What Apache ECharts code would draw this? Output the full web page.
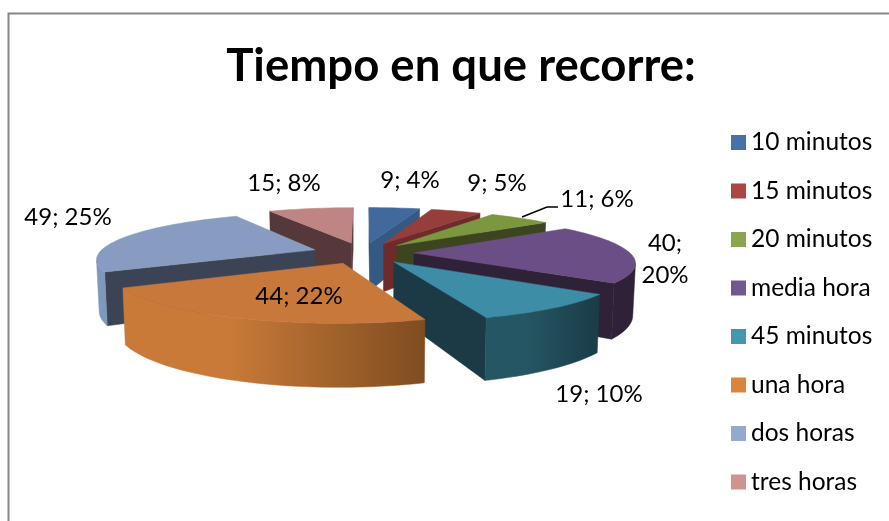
<!DOCTYPE html>
<html>
<head>
<meta charset="utf-8">
<style>
  html, body { margin: 0; padding: 0; background: #fff; }
  #chart { width: 889px; height: 521px; }
</style>
<script src="https://cdn.jsdelivr.net/npm/echarts@6/dist/echarts.min.js"></script>
</head>
<body>
<div id="chart"></div>
<script>
const categories = ['10 minutos', '15 minutos', '20 minutos', 'media hora', '45 minutos', 'una hora', 'dos horas', 'tres horas']
const values = [9, 9, 11, 40, 19, 44, 49, 15]
const percents = ['4%', '5%', '6%', '20%', '10%', '22%', '25%', '8%']

// colours: top face, legend, radial walls, outer rim (left -> right on screen)
const topColors = ['#41699c', '#953e3c', '#7b973f', '#6a4e85', '#3c8da5', '#c8783a', '#879cc0', '#bf8585']
const legendColors = ['#4572a7', '#aa4643', '#89a54e', '#71588f', '#4198af', '#db843d', '#93a9cf', '#d19392']
const wallColors = ['#345a84', '#6e2b2a', '#3d4520', '#2e2138', '#1b3a46', '#7e4d20', '#3b4355', '#55393a']
const rimLeft = ['#345a84', '#6e2b2a', '#3d4520', '#2e2138', '#255663', '#c97a38', '#7f97bb', '#55393a']
const rimRight = ['#345a84', '#6e2b2a', '#3d4520', '#2e2138', '#1b3b47', '#7e4d20', '#7f97bb', '#55393a']

// label centres, px
const labelX = [410, 497, 597, 665, 599, 299, 68, 284]
const labelY = [180, 183, 199, 259, 394, 296, 217, 183]
const labelBreak = [false, false, false, true, false, false, false, false]

// pie projection, fitted to the picture
const cx = 363
const cy = 253
const radiusX = 216
const radiusY = 45
const persp = 0.18
const explode = 0.236
const thickness = 50

const total = values.reduce((a, b) => a + b, 0)
const toRad = d => d * Math.PI / 180

function startAngle(i) {
  return values.slice(0, i).reduce((a, b) => a + b, 0) / total * 360
}

function project(u, v, down) {
  const s = 1 / (1 + persp * v)
  const x = cx + radiusX * u * s
  if (!down) return [x, cy - radiusY * v * s]
  return [cx + (x - cx) * 0.99, cy - radiusY * v * s + thickness * s]
}

function faceArea(p) {
  let a = 0
  for (let i = 0; i < p.length; i++) {
    const q = p[(i + 1) % p.length]
    a += p[i][0] * q[1] - q[0] * p[i][1]
  }
  return a
}

function quad(a, b) {
  return [project(a[0], a[1]), project(b[0], b[1]), project(b[0], b[1], true), project(a[0], a[1], true)]
}

function renderSlice(params, api) {
  const i = params.seriesIndex
  const from = startAngle(i)
  const sweep = api.value(0) / total * 360
  const mid = toRad(from + sweep / 2)
  const ou = explode * Math.sin(mid)
  const ov = explode * Math.cos(mid)

  const steps = Math.ceil(sweep / 2)
  const ring = [[ou, ov]]
  for (let k = 0; k <= steps; k++) {
    const t = toRad(from + sweep * k / steps)
    ring.push([ou + Math.sin(t), ov + Math.cos(t)])
  }

  const children = []
  const addFlat = (points, fill) => {
    children.push({
      type: 'polygon',
      shape: { points },
      style: { fill, stroke: fill, lineWidth: 0.5 }
    })
  }

  const startWall = quad(ring[0], ring[1])
  const endWall = quad(ring[ring.length - 1], ring[0])
  if (faceArea(startWall) < 0) addFlat(startWall, wallColors[i])
  if (faceArea(endWall) < 0) addFlat(endWall, wallColors[i])

  // the visible part of the rim goes in as one polygon, no seams
  const upper = []
  const lower = []
  for (let k = 1; k < ring.length - 1; k++) {
    const q = quad(ring[k], ring[k + 1])
    if (faceArea(q) >= 0) continue
    if (!upper.length) {
      upper.push(q[0])
      lower.push(q[3])
    }
    upper.push(q[1])
    lower.push(q[2])
  }
  if (upper.length) {
    const points = upper.concat(lower.reverse())
    const xs = points.map(p => p[0])
    addFlat(points, new echarts.graphic.LinearGradient(Math.min(...xs), 0, Math.max(...xs), 0, [
      { offset: 0, color: rimLeft[i] },
      { offset: 0.35, color: rimLeft[i] },
      { offset: 1, color: rimRight[i] }
    ], true))
  }

  addFlat(ring.map(p => project(p[0], p[1])), topColors[i])

  const head = api.value(0) + ';' + (labelBreak[i] ? '\n' : ' ')
  children.push({
    type: 'text',
    z2: 100,
    style: {
      x: labelX[i],
      y: labelY[i],
      text: head + percents[i],
      fill: '#000',
      font: '24px Lato',
      align: 'center',
      verticalAlign: 'middle',
      lineHeight: 32
    }
  })
  return { type: 'group', children }
}

// paint back to front, orange slice comes last
const depth = values.map((v, i) => Math.cos(toRad(startAngle(i) + v / total * 180)))
const order = depth.map((d, i) => i).sort((a, b) => depth[b] - depth[a])

const chart = echarts.init(document.getElementById('chart'))
chart.setOption({
  animation: false,
  title: {
    text: 'Tiempo en que recorre:',
    left: 456,
    top: 38,
    textAlign: 'center',
    textStyle: { fontFamily: 'Lato', fontWeight: 'bold', fontSize: 45.5, color: '#000' }
  },
  legend: {
    orient: 'vertical',
    left: 726,
    top: 125,
    icon: 'rect',
    itemWidth: 15,
    itemHeight: 15,
    itemGap: 23.5,
    data: categories,
    textStyle: { fontFamily: 'Lato', fontSize: 24.5, color: '#000' }
  },
  graphic: [
    {
      type: 'rect',
      shape: { x: 8.5, y: 13.5, width: 900, height: 600 },
      style: { fill: 'none', stroke: '#868686', lineWidth: 2 },
      silent: true
    },
    {
      type: 'polyline',
      z: 50,
      shape: { points: [[522, 217], [547, 207], [558, 207]] },
      style: { fill: 'none', stroke: '#000', lineWidth: 1.5 },
      silent: true
    }
  ],
  series: categories.map((name, i) => ({
    type: 'custom',
    name,
    coordinateSystem: 'none',
    z: 2 + order.indexOf(i),
    itemStyle: { color: legendColors[i] },
    data: [values[i]],
    renderItem: renderSlice
  }))
})
</script>
</body>
</html>
